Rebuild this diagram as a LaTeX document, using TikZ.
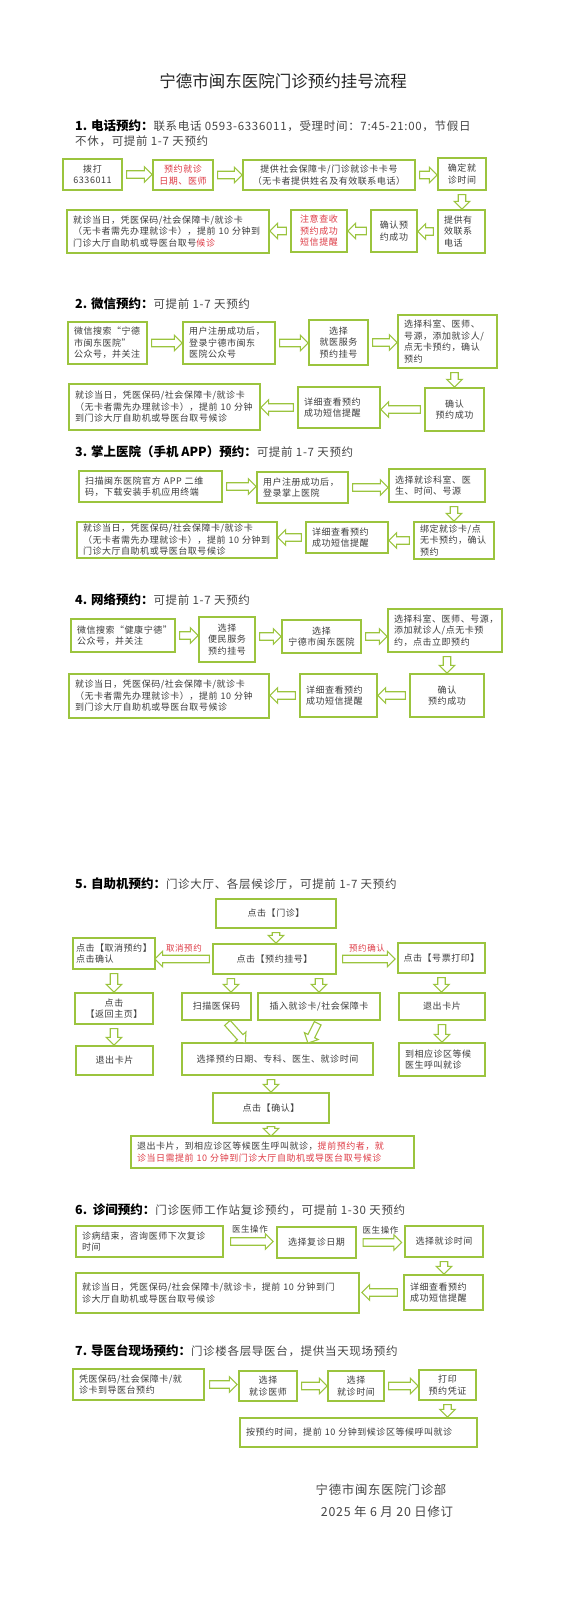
\documentclass[tikz,border=0pt]{standalone}
\usepackage{fontspec}
\setmainfont{Noto Sans CJK SC}
\newfontfamily\bodyf[LetterSpace=6]{Noto Sans CJK SC}
\newfontfamily\headf[LetterSpace=6]{Noto Sans CJK SC}
\usetikzlibrary{shapes.arrows,calc}
\definecolor{lg}{RGB}{155,196,62}
\definecolor{rd}{RGB}{222,60,70}
\definecolor{tx}{RGB}{60,60,60}
\definecolor{hx}{RGB}{70,70,70}
\tikzset{
  box/.style={draw=lg, line width=1.5pt, fill=white, text=tx, inner ysep=2pt, inner xsep=4pt,
    font=\bodyf\fontsize{9}{11.5}\selectfont},
  cb/.style 2 args={box, align=center, minimum width=#1, minimum height=#2},
  lb/.style 2 args={box, align=left, inner xsep=6pt, text width=#1pt-12pt, minimum height=#2},
  blkarrow/.style={single arrow, draw=lg, fill=white, line width=1.1pt, inner xsep=0pt, inner ysep=3.2pt,
    minimum width=0pt, single arrow head extend=4pt, single arrow head indent=0pt, sloped, allow upside down},
  head/.style={anchor=west, text=hx, inner sep=0pt, font=\headf\fontsize{11.5}{15}\selectfont},
  lbl/.style={font=\bodyf\fontsize{8.5}{10}\selectfont, inner sep=0pt},
  foot/.style={text=hx, inner sep=0pt, font=\headf\fontsize{12.4}{15}\selectfont},
}
\newcommand\hb[1]{{\normalfont\fontsize{12.5}{15}\bfseries\selectfont\color{black}#1}}
\newcommand\arr[3][4]{\path let \p1=($(#3)-(#2)$), \n1={veclen(\x1,\y1)-#1} in (#2) -- node[blkarrow, minimum height=\n1]{} (#3);}
\begin{document}
\begin{tikzpicture}[x=1pt,y=-1pt]
\fill[white] (0,0) rectangle (565,1600);
\useasboundingbox (0,0) rectangle (565,1600);

% title
\node[font=\fontsize{16.5}{20}\selectfont, text=black!85, inner sep=0pt] (title) at (283,81) {宁德市闽东医院门诊预约挂号流程};

% ---------- section 1
\node[head, anchor=north west, align=left] (h1) at (75,120) {\hb{1. 电话预约：}联系电话 0593-6336011，受理时间：7:45-21:00，节假日\\不休，可提前 1-7 天预约};
\node[cb={59}{31}] (s1a) at (92.5,174.5) {拨打\\6336011};
\node[cb={60}{30}, text=rd] (s1b) at (183,175) {预约就诊\\日期、医师};
\node[cb={172}{30}] (s1c) at (329,175) {提供社会保障卡/门诊就诊卡卡号\\（无卡者提供姓名及有效联系电话）};
\node[cb={48}{32}] (s1d) at (462,174) {确定就\\诊时间};
\node[lb={47}{43}] (s1h) at (461.5,231.5) {提供有\\效联系\\电话};
\node[cb={46}{42}] (s1g) at (394,231) {确认预\\约成功};
\node[cb={56}{42}, text=rd] (s1f) at (319,231) {注意查收\\预约成功\\短信提醒};
\node[lb={202}{43}] (s1e) at (168,231.5) {就诊当日，凭医保码/社会保障卡/就诊卡\\（无卡者需先办理就诊卡），提前 10 分钟到\\门诊大厅自助机或导医台取号\textcolor{rd}{候诊}};
\arr{s1a.east}{s1a.east -| s1b.west}
\arr{s1b.east}{s1b.east -| s1c.west}
\arr{s1c.east}{s1c.east -| s1d.west}
\arr{s1d.south}{s1d.south |- s1h.north}
\arr{s1h.west}{s1h.west -| s1g.east}
\arr{s1g.west}{s1g.west -| s1f.east}
\arr{s1f.west}{s1f.west -| s1e.east}

% ---------- section 2
\node[head] (h2) at (75,304) {\hb{2. 微信预约：}可提前 1-7 天预约};
\node[lb={79}{42}] (s2a) at (107.5,343) {微信搜索“宁德\\市闽东医院”\\公众号，并关注};
\node[lb={92}{42}] (s2b) at (229,343) {用户注册成功后，\\登录宁德市闽东\\医院公众号};
\node[cb={59}{45}] (s2c) at (338.5,342.5) {选择\\就医服务\\预约挂号};
\node[lb={99}{53}] (s2d) at (447.5,341.5) {选择科室、医师、\\号源，添加就诊人/\\点无卡预约，确认\\预约};
\node[cb={59}{43}] (s2g) at (454.5,409.5) {确认\\预约成功};
\node[lb={82}{41}] (s2f) at (339,407.5) {详细查看预约\\成功短信提醒};
\node[lb={191}{46}] (s2e) at (164.5,407) {就诊当日，凭医保码/社会保障卡/就诊卡\\（无卡者需先办理就诊卡），提前 10 分钟\\到门诊大厅自助机或导医台取号候诊};
\arr{s2a.east}{s2a.east -| s2b.west}
\arr{s2b.east}{s2b.east -| s2c.west}
\arr{s2c.east}{s2c.east -| s2d.west}
\arr{s2g.north |- s2d.south}{s2g.north}
\arr{s2g.west}{s2g.west -| s2f.east}
\arr{s2f.west}{s2f.west -| s2e.east}

% ---------- section 3
\node[head] (h3) at (75,452) {\hb{3. 掌上医院（手机 APP）预约：}可提前 1-7 天预约};
\node[lb={143}{31}] (s3a) at (150.5,486.5) {扫描闽东医院官方 APP 二维\\码，下载安装手机应用终端};
\node[lb={91}{31}] (s3b) at (302.5,487.5) {用户注册成功后，\\登录掌上医院};
\node[lb={96}{33}] (s3c) at (437,485.5) {选择就诊科室、医\\生、时间、号源};
\node[lb={80}{37}] (s3g) at (454,540.5) {绑定就诊卡/点\\无卡预约，确认\\预约};
\node[lb={82}{31}] (s3f) at (347,537.5) {详细查看预约\\成功短信提醒};
\node[lb={200}{36}] (s3e) at (177,540) {就诊当日，凭医保码/社会保障卡/就诊卡\\（无卡者需先办理就诊卡），提前 10 分钟到\\门诊大厅自助机或导医台取号候诊};
\arr{s3a.east}{s3a.east -| s3b.west}
\arr{s3b.east}{s3b.east -| s3c.west}
\arr{s3g.north |- s3c.south}{s3g.north}
\arr{s3g.west}{s3g.west -| s3f.east}
\arr{s3f.west}{s3f.west -| s3e.east}

% ---------- section 4
\node[head] (h4) at (75,600) {\hb{4. 网络预约：}可提前 1-7 天预约};
\node[lb={104}{33}] (s4a) at (123,635.5) {微信搜索“健康宁德”\\公众号，并关注};
\node[cb={56}{45}] (s4b) at (227,639.5) {选择\\便民服务\\预约挂号};
\node[cb={79}{33}] (s4c) at (321.5,636.5) {选择\\宁德市闽东医院};
\node[lb={114}{43}] (s4d) at (445,630.5) {选择科室、医师、号源，\\添加就诊人/点无卡预\\约，点击立即预约};
\node[cb={74}{43}] (s4g) at (447,695.5) {确认\\预约成功};
\node[lb={77}{43}] (s4f) at (338.5,695.5) {详细查看预约\\成功短信提醒};
\node[lb={200}{44}] (s4e) at (169,696) {就诊当日，凭医保码/社会保障卡/就诊卡\\（无卡者需先办理就诊卡），提前 10 分钟\\到门诊大厅自助机或导医台取号候诊};
\arr{s4a.east}{s4a.east -| s4b.west}
\arr{s4c.west -| s4b.east}{s4c.west}
\arr{s4c.east}{s4c.east -| s4d.west}
\arr{s4g.north |- s4d.south}{s4g.north}
\arr{s4g.west}{s4g.west -| s4f.east}
\arr{s4f.west}{s4f.west -| s4e.east}

% ---------- section 5
\node[head] (h5) at (75,884) {\hb{5. 自助机预约：}门诊大厅、各层候诊厅，可提前 1-7 天预约};
\node[cb={120}{29}] (s5men) at (276,913.5) {点击【门诊】};
\node[cb={123}{30}] (s5gh) at (274.5,959) {点击【预约挂号】};
\node[lb={82}{31}, inner xsep=3pt, text width=76pt] (s5qx) at (114,953.5) {点击【取消预约】\\点击确认};
\node[cb={87}{30}] (s5hp) at (441.5,958) {点击【号票打印】};
\node[cb={78}{31}] (s5fh) at (114,1008.5) {点击\\【返回主页】};
\node[cb={69}{27}] (s5sm) at (216.5,1006.5) {扫描医保码};
\node[cb={122}{27}] (s5cr) at (319,1006.5) {插入就诊卡/社会保障卡};
\node[cb={86}{27}] (s5tc2) at (442,1006.5) {退出卡片};
\node[cb={77}{29}] (s5tc1) at (114.5,1060.5) {退出卡片};
\node[cb={191}{32}] (s5xz) at (277.5,1059) {选择预约日期、专科、医生、就诊时间};
\node[lb={86}{33}] (s5dx) at (442,1059.5) {到相应诊区等候\\医生呼叫就诊};
\node[cb={116}{30}] (s5qr) at (271,1108) {点击【确认】};
\node[lb={283}{32}] (s5fin) at (272.5,1152) {退出卡片，到相应诊区等候医生呼叫就诊，\textcolor{rd}{提前预约者，就}\\\textcolor{rd}{诊当日需提前 10 分钟到门诊大厅自助机或导医台取号候诊}};
\arr{s5men.south}{s5men.south |- s5gh.north}
\arr[2]{s5gh.west}{s5gh.west -| s5qx.east}
\path (s5gh.west) -- node[lbl, text=rd, above=7pt] (l1) {取消预约} (s5gh.west -| s5qx.east);
\arr[8]{s5gh.east}{s5gh.east -| s5hp.west}
\path (s5gh.east) -- node[lbl, text=rd, above=7pt] (l2) {预约确认} (s5gh.east -| s5hp.west);
\arr{s5qx.south}{s5qx.south |- s5fh.north}
\arr{s5hp.south}{s5hp.south |- s5tc2.north}
\coordinate (g1) at ($(s5gh.south west)!0.15!(s5gh.south east)$);
\arr{g1}{g1 |- s5sm.north}
\arr{s5cr.north |- s5gh.south}{s5cr.north}
\arr{s5fh.south}{s5fh.south |- s5tc1.north}
\arr{s5tc2.south}{s5tc2.south |- s5dx.north}
\coordinate (d1s) at ($(s5sm.south)+(9,0)$);
\coordinate (d1e) at ($(s5xz.north west)!0.33!(s5xz.north east)$);
\arr[2]{d1s}{d1e}
\coordinate (d2e) at ($(s5xz.north west)!0.66!(s5xz.north east)$);
\arr[2]{s5cr.south}{d2e}
\arr{s5qr.north |- s5xz.south}{s5qr.north}
\arr[2]{s5qr.south}{s5qr.south |- s5fin.north}

% ---------- section 6
\node[head] (h6) at (75,1210) {\hb{6.~~诊间预约：}门诊医师工作站复诊预约，可提前 1-30 天预约};
\node[lb={147}{31}] (s6a) at (149.5,1241.5) {诊病结束，咨询医师下次复诊\\时间};
\node[cb={79}{31}] (s6b) at (316.5,1242.5) {选择复诊日期};
\node[cb={78}{31}] (s6c) at (444,1241.5) {选择就诊时间};
\node[lb={79}{35}] (s6g) at (443.5,1292.5) {详细查看预约\\成功短信提醒};
\node[lb={283}{40}] (s6e) at (217.5,1293) {就诊当日，凭医保码/社会保障卡/就诊卡，提前 10 分钟到门\\诊大厅自助机或导医台取号候诊};
\arr[10]{s6a.east}{s6a.east -| s6b.west}
\path (s6a.east) -- node[lbl, text=tx, above=8pt] (l3) {医生操作} (s6a.east -| s6b.west);
\arr[9]{s6b.east}{s6b.east -| s6c.west}
\path (s6b.east) -- node[lbl, text=tx, above=8pt] (l4) {医生操作} (s6b.east -| s6c.west);
\arr{s6c.south}{s6c.south |- s6g.north}
\arr[8]{s6g.west}{s6g.west -| s6e.east}

% ---------- section 7
\node[head] (h7) at (75,1351) {\hb{7. 导医台现场预约：}门诊楼各层导医台，提供当天现场预约};
\node[lb={131}{31}] (s7a) at (138.5,1384.5) {凭医保码/社会保障卡/就\\诊卡到导医台预约};
\node[cb={58}{30}] (s7b) at (268,1386) {选择\\就诊医师};
\node[cb={56}{30}] (s7c) at (356,1386) {选择\\就诊时间};
\node[cb={57}{30}] (s7d) at (447.5,1385) {打印\\预约凭证};
\node[lb={237}{29}] (s7e) at (358.5,1432.5) {按预约时间，提前 10 分钟到候诊区等候呼叫就诊};
\arr[6]{s7a.east}{s7a.east -| s7b.west}
\arr{s7b.east}{s7b.east -| s7c.west}
\arr{s7c.east}{s7c.east -| s7d.west}
\arr{s7d.south}{s7d.south |- s7e.north}

% ---------- footer
\node[foot] (f1) at (381,1490) {宁德市闽东医院门诊部};
\node[foot] (f2) at (387,1512) {2025 年 6 月 20 日修订};
\end{tikzpicture}
\end{document}
